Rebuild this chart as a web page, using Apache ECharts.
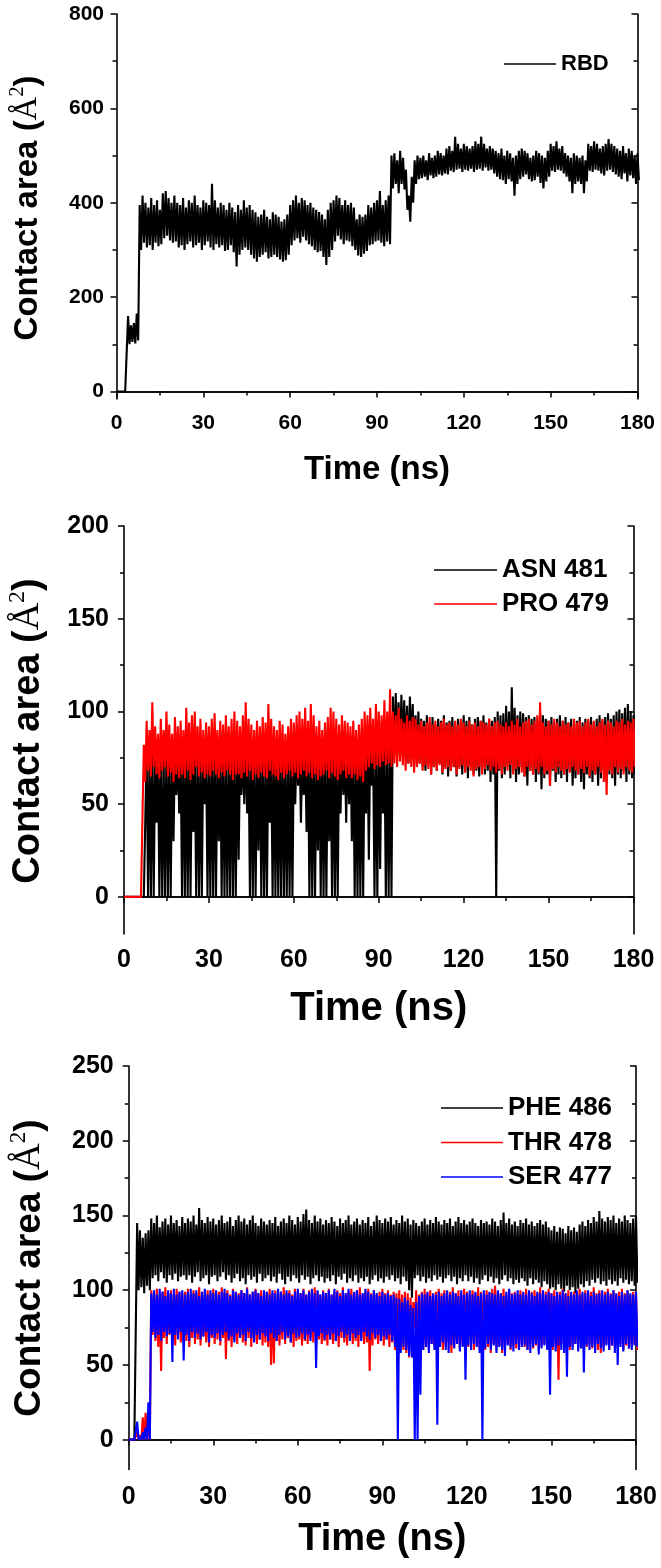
<!DOCTYPE html>
<html><head><meta charset="utf-8">
<script src="https://cdn.jsdelivr.net/npm/echarts@6/dist/echarts.min.js"></script>
<style>html,body{margin:0;padding:0;background:#fff}#c{width:661px;height:1568px}</style>
</head><body><div id="c"></div>
<script>
// time grid (ns), one high/low pair read per ns
const timeNs = Array.from({length: 181}, (_, i) => i);
const xTicks = [0, 30, 60, 90, 120, 150, 180];

// ---------- Panel 1: RBD ----------
const rbdHigh = [
0,0,0,0,160,140,145,165,395,415,
400,390,410,395,405,385,420,425,410,400,
415,400,395,410,390,405,400,415,395,390,
405,400,395,440,405,390,400,395,385,400,
390,380,395,385,405,390,395,385,380,370,
375,385,370,365,380,375,370,360,365,375,
395,405,415,400,410,405,395,400,390,385,
380,375,365,385,400,405,415,410,395,405,
395,400,390,365,375,370,375,395,390,400,
405,425,395,405,415,500,505,490,510,495,
470,415,455,490,500,495,500,490,505,495,
500,510,505,500,515,520,510,540,525,515,
525,520,515,520,530,525,540,525,515,520,
515,510,505,515,500,510,505,495,500,510,
515,510,505,495,500,510,505,500,495,510,
525,520,530,515,520,505,500,495,505,500,
495,500,490,525,520,530,525,515,520,525,
535,525,520,515,510,520,505,515,510,500,
505];
const rbdLow = [
0,0,0,0,100,105,102,108,300,315,
305,310,300,315,308,312,325,330,320,315,
318,305,310,300,312,318,305,310,315,300,
310,318,305,300,312,305,310,298,300,310,
295,265,290,300,305,300,290,282,275,285,
290,295,282,285,290,285,280,275,278,290,
310,320,325,315,328,320,312,308,300,295,
298,285,268,285,300,318,330,322,312,320,
318,308,300,288,285,292,298,310,312,318,
320,315,308,318,312,430,440,420,440,428,
385,360,400,440,450,452,455,448,458,452,
455,460,458,462,460,468,465,470,472,465,
470,468,472,465,470,472,468,475,468,470,
462,455,450,448,440,450,445,415,440,450,
455,460,450,445,448,455,442,430,445,455,
468,465,470,468,462,455,445,420,440,445,
440,420,445,468,465,470,468,462,458,468,
470,465,460,455,450,462,445,458,452,440,
448];

// ---------- Panel 2: ASN 481 / PRO 479 ----------
const asnHigh = [
0,0,0,0,0,0,0,0,80,78,
85,75,82,80,76,84,78,80,82,79,
78,83,80,85,77,80,82,78,84,80,
79,82,85,78,80,83,77,81,84,79,
82,78,80,85,79,83,81,77,84,80,
78,82,80,84,79,81,83,78,80,82,
80,84,85,79,82,86,80,83,78,81,
84,80,82,78,85,81,79,83,80,84,
82,80,78,85,81,84,86,83,80,88,
85,90,87,84,90,108,110,105,109,106,
103,108,104,98,100,96,95,98,94,97,
93,96,95,98,94,95,97,93,96,94,
98,95,97,93,96,97,95,98,94,96,
95,97,100,98,99,103,100,113,102,98,
100,99,97,98,96,97,95,99,98,96,
95,97,94,96,98,95,97,94,96,93,
95,97,94,96,95,97,94,96,98,95,
97,99,96,98,100,101,99,102,104,100,
98];
const asnLow = [
0,0,0,0,0,0,0,0,0,0,
0,40,0,0,0,0,0,30,55,45,
0,0,0,0,35,0,0,0,50,0,
0,0,0,30,0,0,0,0,0,0,
20,55,50,45,0,0,0,25,0,0,
0,40,0,0,0,0,0,0,0,0,
50,60,40,55,35,0,0,0,25,0,
0,0,30,0,0,0,45,55,40,50,
30,0,0,0,0,45,20,60,0,0,
15,45,0,0,0,78,80,75,82,78,
72,80,76,70,72,70,68,72,66,70,
68,72,66,70,65,68,70,65,70,66,
68,64,70,66,68,65,70,66,68,62,
66,0,68,64,66,70,64,68,62,66,
70,65,60,68,66,62,66,58,64,66,
60,68,62,66,64,66,62,68,60,64,
66,62,58,66,64,62,66,60,64,68,
62,66,64,60,66,64,68,62,66,64,
66];
const proHigh = [
0,0,0,0,0,0,0,82,95,90,
105,92,88,96,90,100,93,88,97,92,
95,90,102,94,98,100,92,96,90,94,
92,96,99,90,95,93,98,92,96,100,
95,92,98,105,96,93,90,95,92,97,
94,104,96,92,90,95,93,88,92,96,
94,98,100,96,102,95,104,98,92,95,
90,94,97,102,100,96,93,98,95,94,
92,95,90,93,96,100,98,102,96,104,
100,98,106,100,112,100,98,102,96,94,
98,95,97,96,93,95,92,94,97,93,
95,92,94,96,93,94,92,95,93,96,
94,92,95,93,94,92,95,94,93,96,
92,94,95,93,92,94,92,95,93,96,
92,94,95,96,93,95,98,105,94,92,
95,93,96,94,92,95,93,94,92,96,
94,95,92,94,96,93,95,92,94,96,
93,95,94,92,95,94,96,93,95,94,
96];
const proLow = [
0,0,0,0,0,0,0,62,68,65,
70,66,64,68,70,65,67,62,66,64,
66,64,68,63,66,70,65,67,64,66,
65,68,66,64,67,65,68,66,63,66,
66,64,67,65,68,63,66,64,67,65,
64,68,66,65,63,67,64,66,68,65,
67,64,66,68,65,67,64,66,63,65,
66,68,64,67,65,63,66,68,64,66,
64,66,63,65,62,68,70,72,69,71,
70,73,71,72,70,72,70,73,71,68,
72,70,67,70,72,68,71,69,66,70,
68,71,67,69,70,68,70,66,69,71,
67,70,68,65,69,70,66,69,71,68,
70,67,69,66,70,68,71,66,69,70,
67,65,70,68,66,69,67,70,66,68,
60,69,67,70,68,66,69,67,70,68,
66,69,67,70,65,68,66,70,67,62,
55,68,66,70,67,69,66,70,68,67,
70];

// ---------- Panel 3: PHE 486 / THR 478 / SER 477 ----------
const pheHigh = [
0,0,0,145,140,135,138,140,148,145,
150,142,146,148,144,150,145,147,143,149,
145,148,146,150,144,155,147,145,149,146,
148,144,147,150,145,146,149,143,147,150,
146,148,144,147,150,145,143,148,146,144,
147,145,149,143,146,148,145,150,147,144,
149,146,151,154,147,145,150,146,148,144,
147,145,149,146,143,148,145,147,150,144,
146,148,144,147,145,149,143,146,150,147,
145,148,146,149,144,147,145,150,146,148,
144,147,145,143,146,148,144,147,145,149,
146,144,147,145,148,143,146,149,145,147,
144,146,148,145,143,147,145,146,144,148,
146,143,147,152,145,148,144,146,143,147,
145,148,144,146,143,145,147,144,146,142,
140,143,139,142,141,138,143,140,142,139,
144,146,143,147,145,149,146,153,148,146,
149,147,150,145,148,146,150,147,145,148,
150];
const pheLow = [
0,0,0,100,102,98,103,100,108,110,
106,112,108,105,110,107,111,106,109,110,
107,110,105,109,112,106,108,110,104,109,
110,106,109,112,107,110,105,108,111,106,
108,104,110,107,109,105,111,106,108,110,
106,109,105,111,107,104,109,106,110,108,
105,110,107,109,104,108,110,106,109,105,
108,106,110,104,109,107,111,105,108,106,
110,105,108,106,109,104,107,110,106,108,
105,109,107,110,106,108,104,109,106,100,
95,108,110,106,109,105,108,106,110,107,
109,105,108,110,106,109,104,108,106,110,
106,109,105,108,104,107,110,106,109,105,
108,104,107,110,106,108,104,107,105,108,
106,103,108,104,107,105,102,106,104,101,
102,100,104,101,99,103,100,102,98,101,
104,102,106,103,107,105,108,104,106,103,
107,104,106,103,108,105,107,104,106,103,
105];
const thrHigh = [
0,0,0,5,3,15,18,10,100,98,
101,97,99,102,98,100,97,101,99,98,
99,101,97,100,98,102,99,97,100,98,
101,97,99,102,98,100,97,101,99,98,
100,98,102,97,99,101,98,100,97,99,
101,98,100,97,99,102,98,100,97,101,
99,98,101,97,100,98,102,99,97,100,
98,101,97,99,100,98,102,97,99,101,
98,100,102,97,99,101,98,100,97,99,
101,98,100,97,99,98,100,97,99,98,
95,92,100,97,99,101,98,100,97,99,
101,98,100,97,99,102,98,100,97,101,
99,97,100,98,102,99,97,100,98,101,
103,99,98,101,97,100,98,99,97,100,
98,101,97,99,100,98,102,97,99,101,
98,100,97,99,101,98,100,97,99,98,
101,97,100,98,99,102,98,100,97,99,
101,98,100,97,99,101,98,100,97,99,
98];
const thrLow = [
0,0,0,0,0,0,0,0,70,66,
62,46,68,64,70,66,63,69,65,67,
66,62,68,64,67,63,69,65,62,68,
64,67,63,68,54,66,62,67,64,68,
65,63,68,62,66,64,67,63,65,62,
50,51,66,63,67,64,68,65,62,66,
67,63,66,64,68,65,62,67,64,66,
63,67,64,66,62,68,65,63,67,64,
66,62,68,64,65,46,63,67,64,66,
63,67,62,65,60,58,62,60,58,55,
70,75,50,58,60,62,60,64,62,58,
64,60,62,65,58,62,64,60,63,61,
62,65,60,63,61,64,60,62,58,64,
60,63,58,62,64,60,63,61,62,64,
62,60,64,61,63,60,62,64,61,63,
60,62,40,64,61,63,60,62,64,61,
63,60,62,64,61,63,60,58,62,64,
60,63,61,62,64,60,63,61,62,64,
60];
const serHigh = [
0,0,0,12,2,5,8,25,98,100,
97,101,99,96,100,98,101,97,99,100,
97,99,101,98,100,96,99,101,97,100,
98,100,97,99,101,98,96,100,99,97,
100,98,101,97,99,100,98,96,100,99,
97,100,98,101,99,97,100,98,96,99,
101,98,100,97,99,101,98,100,97,99,
98,100,97,101,99,96,100,98,101,97,
99,100,97,98,101,99,97,100,98,96,
99,97,98,96,97,95,94,92,95,93,
90,88,92,96,98,97,99,96,98,97,
99,96,98,100,97,99,98,96,100,97,
98,100,97,99,96,98,100,97,99,98,
97,100,98,96,99,101,97,98,100,97,
99,97,100,98,96,99,98,100,97,99,
98,96,99,97,100,98,96,99,97,100,
97,99,98,100,96,99,97,98,100,97,
99,97,100,98,96,99,97,100,98,97,
99];
const serLow = [
0,0,0,0,0,0,0,0,72,68,
70,66,72,69,71,52,70,67,72,53,
70,66,72,68,71,67,69,72,65,70,
68,71,66,70,72,67,69,65,71,68,
70,66,72,68,65,70,67,71,69,66,
71,68,66,70,72,67,69,65,71,68,
69,71,67,70,66,72,48,69,71,67,
70,67,71,66,69,72,68,70,66,71,
68,70,66,72,69,67,71,68,70,66,
69,67,70,66,62,0,58,62,60,56,
55,0,0,30,60,62,58,64,60,10,
62,65,60,58,63,61,64,59,62,40,
63,60,64,62,58,0,61,64,60,63,
58,62,60,56,63,61,59,64,60,62,
63,60,58,62,64,57,61,63,60,30,
62,59,63,60,58,42,62,60,64,59,
61,45,63,60,62,58,64,61,59,63,
60,63,58,50,62,59,64,61,60,63,
62];

const yTicks1 = [0, 200, 400, 600, 800], yMinor1 = [100, 300, 500, 700];
const yTicks2 = [0, 50, 100, 150, 200], yMinor2 = [25, 75, 125, 175];
const yTicks3 = [0, 50, 100, 150, 200, 250], yMinor3 = [25, 75, 125, 175, 225];

const all = {rbdHigh, rbdLow, asnHigh, asnLow, proHigh, proLow, pheHigh, pheLow, thrHigh, thrLow, serHigh, serLow};
for (const k in all) if (all[k].length !== timeNs.length) throw new Error(k + ' has ' + all[k].length + ' values');

function zig(hi, lo) {
  const out = [];
  for (let i = 0; i < timeNs.length; i++) {
    out.push([timeNs[i], hi[i]]);
    out.push([timeNs[i] + 0.5, lo[i]]);
  }
  return out;
}

const FONT = "'Liberation Sans', Arial, sans-serif";
const SERIF = "'Liberation Serif', 'Times New Roman', serif";
const BLACK = '#000';

const panels = [
  {top: 14, height: 385, left: 116.5, right: 23.5, yMin: -16, yMax: 800, yT: yTicks1, yM: yMinor1,
   tick: 21, xMargin: 13.5, yMargin: 12.5, xTitle: 33, xGap: 54, yTitle: 33, tx: 27.5, ty: 208},
  {top: 526, height: 408, left: 124, right: 27.5, yMin: -20, yMax: 200, yT: yTicks2, yM: yMinor2,
   tick: 25, xMargin: 14, yMargin: 15, xTitle: 40, xGap: 55, yTitle: 38, tx: 28.5, ty: 731},
  {top: 1066, height: 403.5, left: 128.7, right: 25, yMin: -20, yMax: 250, yT: yTicks3, yM: yMinor3,
   tick: 25, xMargin: 15, yMargin: 15, xTitle: 38, xGap: 51, yTitle: 37, tx: 29.5, ty: 1268}
];

const axisLine = {show: true, lineStyle: {color: BLACK, width: 1.6}};
const tickStyle = {color: BLACK, width: 1.5};

const grid = [], xAxis = [], yAxis = [], graphic = [];
panels.forEach((p, g) => {
  grid.push({left: p.left, right: p.right, top: p.top, height: p.height, containLabel: false});
  const xBase = {gridIndex: g, type: 'value', min: 0, max: 180, interval: 30, splitLine: {show: false}};
  xAxis.push(Object.assign({}, xBase, {
    position: 'bottom', axisLine,
    axisTick: {show: true, length: 6, lineStyle: tickStyle},
    minorTick: {show: true, splitNumber: 2, length: 4, lineStyle: tickStyle},
    axisLabel: {show: true, margin: p.xMargin, fontSize: p.tick, fontWeight: 'bold', fontFamily: FONT, color: BLACK,
                customValues: xTicks},
    name: 'Time (ns)', nameLocation: 'middle', nameGap: p.xGap,
    nameTextStyle: {fontSize: p.xTitle, fontWeight: 'bold', fontFamily: FONT, color: BLACK}
  }));
  xAxis.push(Object.assign({}, xBase, {
    position: 'top', axisLine,
    axisTick: {show: true, inside: true, length: 6, lineStyle: tickStyle},
    minorTick: {show: true, splitNumber: 2, length: 4, lineStyle: tickStyle},
    axisLabel: {show: false}
  }));
  const yBase = {gridIndex: g, type: 'value', min: p.yMin, max: p.yMax, splitLine: {show: false}};
  yAxis.push(Object.assign({}, yBase, {
    position: 'left', axisLine,
    axisTick: {show: true, length: 6, lineStyle: tickStyle, customValues: p.yT},
    axisLabel: {show: true, margin: p.yMargin, fontSize: p.tick, fontWeight: 'bold', fontFamily: FONT, color: BLACK,
                customValues: p.yT}
  }));
  yAxis.push(Object.assign({}, yBase, {
    position: 'left', axisLine: {show: false},
    axisTick: {show: true, length: 4, lineStyle: tickStyle, customValues: p.yM},
    axisLabel: {show: false}
  }));
  yAxis.push(Object.assign({}, yBase, {
    position: 'right', axisLine,
    axisTick: {show: true, inside: true, length: 6, lineStyle: tickStyle, customValues: p.yT},
    axisLabel: {show: false}
  }));
  yAxis.push(Object.assign({}, yBase, {
    position: 'right', axisLine: {show: false},
    axisTick: {show: true, inside: true, length: 4, lineStyle: tickStyle, customValues: p.yM},
    axisLabel: {show: false}
  }));
  graphic.push({
    type: 'text', x: p.tx, y: p.ty, rotation: Math.PI / 2,
    style: {
      text: '{m|Contact area (}{a|Å}{s|2}{m|)}',
      align: 'center', verticalAlign: 'middle',
      rich: {
        m: {fontSize: p.yTitle, fontWeight: 'bold', fontFamily: FONT, fill: BLACK, lineHeight: p.yTitle * 1.2},
        a: {fontSize: p.yTitle, fontFamily: SERIF, fill: BLACK, lineHeight: p.yTitle * 1.2},
        s: {fontSize: Math.round(p.yTitle * 0.62), fontFamily: SERIF, fill: BLACK, verticalAlign: 'top', lineHeight: p.yTitle * 1.2}
      }
    }
  });
});

function line(name, hi, lo, g, color) {
  return {
    name, type: 'line', xAxisIndex: 2 * g, yAxisIndex: 4 * g,
    data: zig(hi, lo), showSymbol: false, symbol: 'none', animation: false, silent: true,
    lineStyle: {color, width: 2.1, join: 'miter', miterLimit: 2}, itemStyle: {color}, clip: true
  };
}

const series = [
  line('RBD', rbdHigh, rbdLow, 0, '#000000'),
  line('ASN 481', asnHigh, asnLow, 1, '#000000'),
  line('PRO 479', proHigh, proLow, 1, '#ff0000'),
  line('PHE 486', pheHigh, pheLow, 2, '#000000'),
  line('THR 478', thrHigh, thrLow, 2, '#ff0000'),
  line('SER 477', serHigh, serLow, 2, '#0000ff')
];

function legend(names, left, top, w, fs, gap) {
  return {
    data: names, left, top, orient: 'vertical', icon: 'rect', itemWidth: w, itemHeight: 1.3,
    itemGap: gap, selectedMode: false,
    textStyle: {fontSize: fs, fontWeight: 'bold', fontFamily: FONT, color: BLACK, lineHeight: fs + 2}
  };
}

const chart = echarts.init(document.getElementById('c'), null, {renderer: 'canvas'});
chart.setOption({
  animation: false,
  backgroundColor: '#fff',
  grid, xAxis, yAxis, series, graphic,
  legend: [
    legend(['RBD'], 499, 47, 52, 22, 8),
    legend(['ASN 481', 'PRO 479'], 429, 551, 63, 26, 6),
    legend(['PHE 486', 'THR 478', 'SER 477'], 436, 1089, 62, 26, 6.5)
  ]
});
</script>
</body></html>
